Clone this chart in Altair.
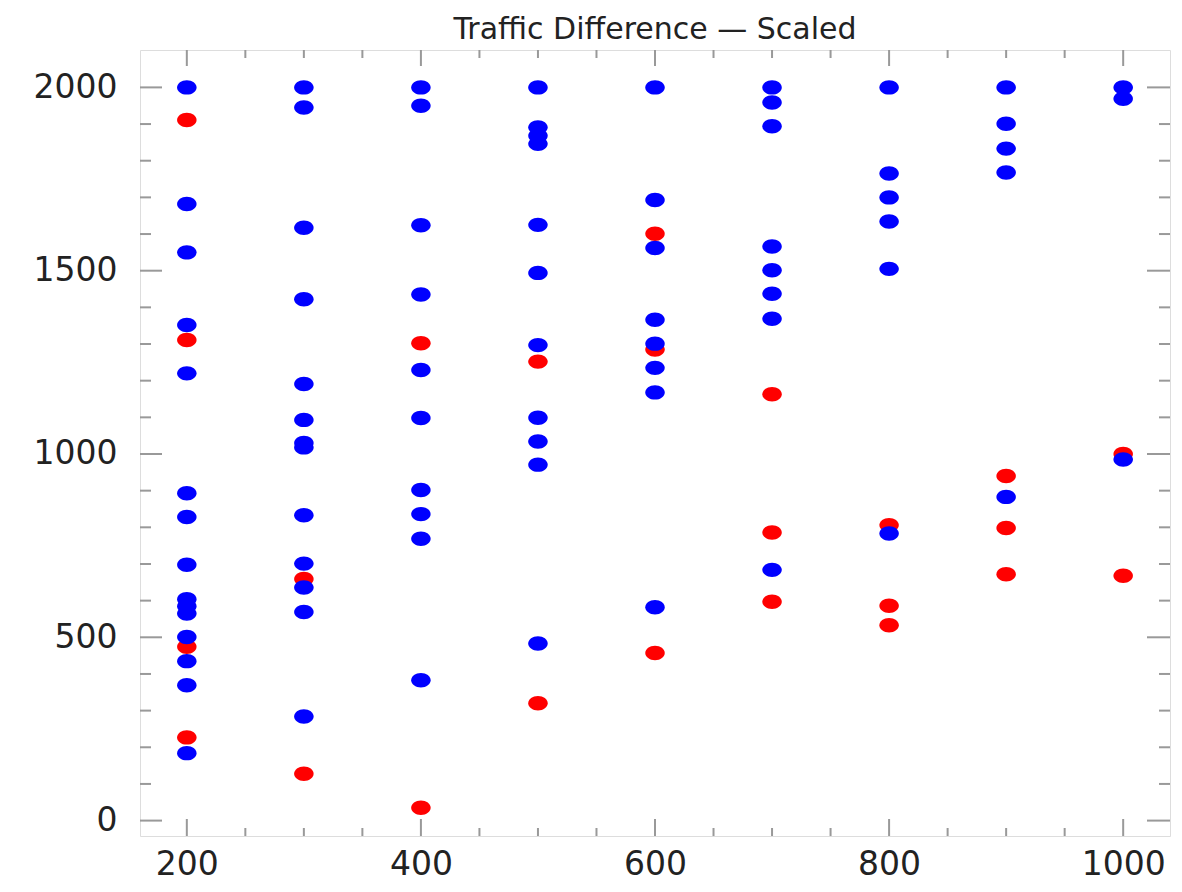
import altair as alt
import pandas as pd

# ---- data ----
x_columns = [200, 300, 400, 500, 600, 700, 800, 900, 1000]
blue_values = [
    [2000, 1682, 1550, 1352, 1220, 893, 828, 698, 604, 585, 565, 501, 435, 369, 184],
    [2000, 1945, 1617, 1422, 1191, 1093, 1030, 1018, 833, 701, 636, 569, 284],
    [2000, 1950, 1624, 1435, 1229, 1098, 902, 836, 769, 383],
    [2000, 1891, 1868, 1846, 1625, 1494, 1297, 1099, 1034, 971, 483],
    [2000, 1693, 1562, 1366, 1301, 1235, 1168, 582],
    [2000, 1959, 1894, 1566, 1501, 1437, 1369, 684],
    [2000, 1765, 1700, 1634, 1505, 783],
    [2000, 1901, 1833, 1768, 883],
    [2000, 1969, 985],
]
red_values = [
    [1911, 1311, 474, 227],
    [659, 128],
    [1302, 35],
    [1252, 320],
    [1601, 1285, 457],
    [1163, 786, 597],
    [806, 586, 533],
    [940, 798, 672],
    [1000, 668],
]
x_major = [200, 400, 600, 800, 1000]
x_minor = [250, 300, 350, 450, 500, 550, 650, 700, 750, 850, 900, 950]
y_major = [0, 500, 1000, 1500, 2000]
y_minor = [100, 200, 300, 400, 600, 700, 800, 900, 1100, 1200, 1300, 1400,
           1600, 1700, 1800, 1900]
title_text = "Traffic Difference \u2014 Scaled"

# ---- build tables ----
def to_frame(cols, vals):
    rows = []
    for xv, ys in zip(cols, vals):
        for yv in ys:
            rows.append({"x": xv, "y": yv})
    return pd.DataFrame(rows)

blue_df = to_frame(x_columns, blue_values)
red_df = to_frame(x_columns, red_values)

W, H = 1030, 786
FONT = "DejaVu Sans"
TICK = "#999999"
ELLIPSE = "M-1,0A1,0.74,0,1,1,1,0A1,0.74,0,1,1,-1,0Z"

xs = alt.Scale(domain=[160, 1040], nice=False, zero=False)
ys = alt.Scale(domain=[-42, 2102], nice=False, zero=False)
xaxis = alt.Axis(values=x_major, title=None, ticks=False, tickSize=0, domain=False,
                 grid=False, labelPadding=12, labelFontSize=33, labelFont=FONT,
                 labelColor="#222222", format="d", labelFlush=False)
yaxis = alt.Axis(values=y_major, title=None, ticks=False, tickSize=0, domain=False,
                 grid=False, labelPadding=23, labelFontSize=33, labelFont=FONT,
                 labelColor="#222222", format="d", labelFlush=False)

def points(df, color):
    return alt.Chart(df).mark_point(shape=ELLIPSE, size=380, filled=True, opacity=1,
                                    strokeWidth=0).encode(
        x=alt.X("x:Q", scale=xs, axis=xaxis),
        y=alt.Y("y:Q", scale=ys, axis=yaxis),
        color=alt.value(color),
    )

def xticks(vals, y0, y1):
    return alt.Chart(pd.DataFrame({"x": vals})).mark_rule(color=TICK, strokeWidth=2).encode(
        x=alt.X("x:Q", scale=xs, axis=xaxis), y=alt.value(y0), y2=alt.value(y1))

def yticks(vals, x0, x1):
    return alt.Chart(pd.DataFrame({"y": vals})).mark_rule(color=TICK, strokeWidth=2).encode(
        y=alt.Y("y:Q", scale=ys, axis=yaxis), x=alt.value(x0), x2=alt.value(x1))

layers = [
    xticks(x_major, H, H - 17), xticks(x_minor, H, H - 8),
    xticks(x_major, 0, 16), xticks(x_minor, 0, 8),
    yticks(y_major, 0, 22), yticks(y_minor, 0, 11),
    yticks(y_major, W, W - 23), yticks(y_minor, W, W - 11),
    points(red_df, "#ff0000"),
    points(blue_df, "#0000ff"),
]

chart = alt.layer(*layers).properties(
    width=W, height=H,
    padding={"left": 132, "top": 42, "right": 2, "bottom": 48},
    autosize=alt.AutoSizeParams(type="none"),
    title=alt.TitleParams(title_text, fontSize=30, font=FONT, fontWeight="normal",
                          color="#222222", anchor="middle", offset=4),
).configure_view(stroke="#8c8c8c", strokeWidth=2).configure(background="white")

chart.save("out.html", embed_options={"renderer": "svg", "actions": False})
